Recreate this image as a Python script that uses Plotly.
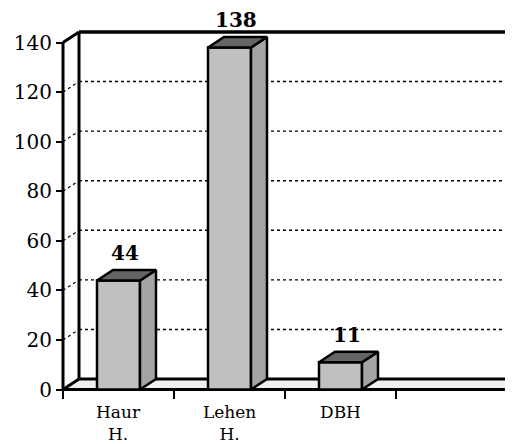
import plotly.graph_objects as go

# ---- data ----
categories = ["Haur<br>H.", "Lehen<br>H.", "DBH", ""]
values = [44, 138, 11]
y_ticks = [0, 20, 40, 60, 80, 100, 120, 140]

# ---- geometry (pixels, figure coordinates; page has 8px body margin) ----
W, H = 505, 436
L, R, T, B = 22, 0, 2, 30
x0_px, y0_px = 55, 381.5          # front origin
px_cat = 111.0                    # pixels per category
px_val = 347.0 / 140              # pixels per unit value
plot_w = W - L - R
plot_h = H - T - B
x_range = [(L - x0_px) / px_cat, (W - R - x0_px) / px_cat]
y_range = [-(H - B - y0_px) / px_val, (y0_px - T) / px_val]
dx = 16 / px_cat                  # depth offset (x)
dy = 10.5 / px_val                # depth offset (y)
n = len(categories)
bar_w = 43 / px_cat
ytop = y_ticks[-1]
xmax = x_range[1] + 0.2

FONT = "DejaVu Serif"
shapes = []

def line(x1, y1, x2, y2, w=3, dash="solid"):
    shapes.append(dict(type="line", xref="x", yref="y", x0=x1, y0=y1, x1=x2, y1=y2,
                       line=dict(color="black", width=w, dash=dash), layer="below"))

# floor
shapes.append(dict(type="path", xref="x", yref="y",
                   path=f"M 0,0 L {n},0 L {n+dx},{dy} L {dx},{dy} Z",
                   fillcolor="#f0f0f0", line=dict(width=0), layer="below"))
# gridlines on back wall + diagonals on side
for v in y_ticks[1:-1]:
    line(dx, v + dy, xmax, v + dy, w=1.4, dash="dot")
    line(0, v, dx, v + dy, w=1.2, dash="dot")
# walls / frame
line(dx, dy, dx, ytop + dy, w=3)
line(dx, ytop + dy, xmax, ytop + dy, w=3.5)
line(0, ytop, dx, ytop + dy, w=3)
line(dx, dy, xmax, dy, w=3)
line(0, 0, dx, dy, w=3)
line(0, 0, n, 0, w=3)
line(n, 0, n + dx, dy, w=3)
line(0, 0, 0, ytop, w=3)

fig = go.Figure()
centers = [i + 0.5 for i in range(len(values))]

fig.add_trace(go.Bar(x=centers, y=values, width=bar_w,
                     marker=dict(color="#c0c0c0", line=dict(color="black", width=2.5)),
                     hoverinfo="skip", showlegend=False))

hw = bar_w / 2
for c, v in zip(centers, values):
    # side face
    fig.add_trace(go.Scatter(
        x=[c + hw, c + hw + dx, c + hw + dx, c + hw, c + hw],
        y=[0, dy, v + dy, v, 0], mode="lines", fill="toself",
        fillcolor="#a4a4a4", line=dict(color="black", width=2.5),
        hoverinfo="skip", showlegend=False))
    # top face
    fig.add_trace(go.Scatter(
        x=[c - hw, c + hw, c + hw + dx, c - hw + dx, c - hw],
        y=[v, v, v + dy, v + dy, v], mode="lines", fill="toself",
        fillcolor="#646464", line=dict(color="black", width=2.5),
        hoverinfo="skip", showlegend=False))

annotations = []
for c, v in zip(centers, values):
    annotations.append(dict(x=c + dx * 0.4, y=v + dy, xref="x", yref="y", text=f"<b>{v}</b>",
                            showarrow=False, yanchor="bottom", yshift=3,
                            font=dict(family=FONT, size=20, color="black")))
for i, cat in enumerate(categories):
    if cat:
        annotations.append(dict(x=i + 0.5, y=0, xref="x", yref="y", text=cat,
                                showarrow=False, yanchor="top", yshift=-10,
                                font=dict(family=FONT, size=17, color="black")))

fig.update_layout(
    width=W, height=H,
    margin=dict(l=L, r=R, t=T, b=B),
    paper_bgcolor="white", plot_bgcolor="white",
    shapes=shapes, annotations=annotations,
    showlegend=False,
    xaxis=dict(range=x_range, domain=[0, 1], anchor="free",
               position=(H - B - y0_px) / plot_h,
               tickvals=list(range(n + 1)), ticks="outside", ticklen=8, tickwidth=2,
               tickcolor="black", showticklabels=False, showgrid=False,
               zeroline=False, showline=False, fixedrange=True),
    yaxis=dict(range=y_range, domain=[0, 1], anchor="free",
               position=(x0_px - L) / plot_w,
               tickvals=y_ticks, ticks="outside", ticklen=7, tickwidth=2,
               tickcolor="black", tickfont=dict(family=FONT, size=20, color="black"),
               showgrid=False, zeroline=False, showline=False, fixedrange=True),
)

fig.write_html("out.html")
